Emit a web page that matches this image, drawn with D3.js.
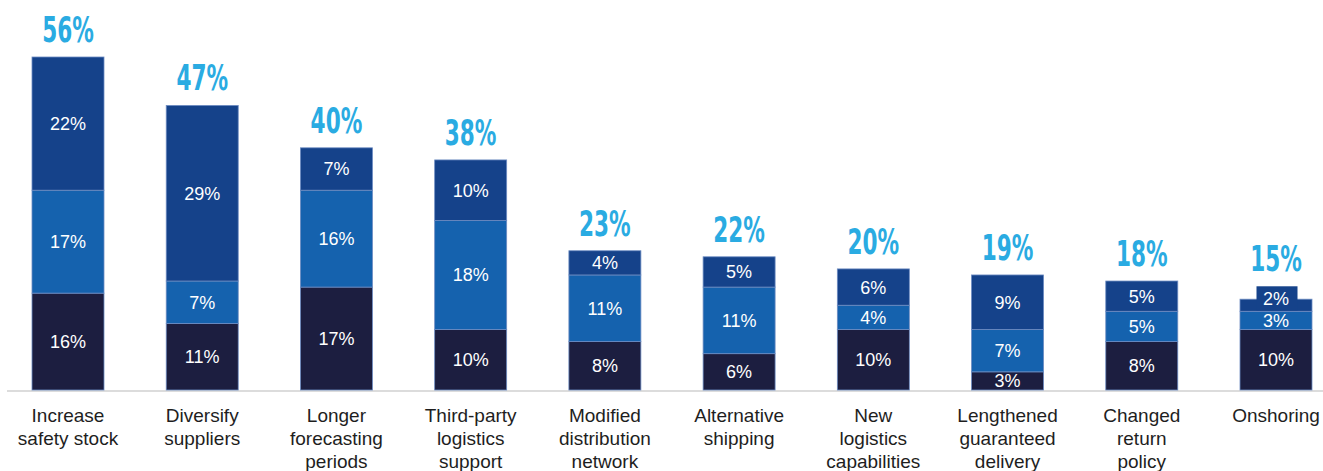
<!DOCTYPE html>
<html>
<head>
<meta charset="utf-8">
<script src="https://cdn.jsdelivr.net/npm/d3@7"></script>
<style>
  html, body { margin: 0; padding: 0; background: #fff; }
  svg { display: block; }
</style>
</head>
<body>
<svg id="chart" width="1323" height="471"></svg>
<script>
// Supply-chain responses: share of respondents, split into three groups
const categories = [
  ["Increase", "safety stock"],
  ["Diversify", "suppliers"],
  ["Longer", "forecasting", "periods"],
  ["Third-party", "logistics", "support"],
  ["Modified", "distribution", "network"],
  ["Alternative", "shipping"],
  ["New", "logistics", "capabilities"],
  ["Lengthened", "guaranteed", "delivery"],
  ["Changed", "return", "policy"],
  ["Onshoring"]
];
const bottomValues = [16, 11, 17, 10, 8, 6, 10, 3, 8, 10];
const middleValues = [17, 7, 16, 18, 11, 11, 4, 7, 5, 3];
const topValues    = [22, 29, 7, 10, 4, 5, 6, 9, 5, 2];
const totalLabels  = [56, 47, 40, 38, 23, 22, 20, 19, 18, 15];

const colors = ["#1c1e40", "#1562ae", "#15428a"];
const totalColor = "#2aabe2";

const svg = d3.select("#chart");
const baseY = 390;

const keys = categories.map((c, i) => i);
const x = d3.scalePoint().domain(keys).range([68, 1276]);
const barW = 72;
const y = d3.scaleLinear().domain([0, 55]).range([baseY, 57]);

const rows = keys.map(i => ({ i, b: bottomValues[i], m: middleValues[i], t: topValues[i] }));
const stack = d3.stack().keys(["b", "m", "t"])(rows);

// highest drawn point of each bar (a label tab may rise above the bar)
const topEdge = rows.map(r => y(r.b + r.m + r.t));

// baseline
svg.append("line")
  .attr("x1", 7).attr("x2", 1323)
  .attr("y1", baseY + 1).attr("y2", baseY + 1)
  .attr("stroke", "#dcdcdc").attr("stroke-width", 2);

const layers = svg.selectAll("g.layer").data(stack).join("g")
  .attr("class", "layer")
  .attr("fill", (d, k) => colors[k]);

layers.selectAll("rect").data(d => d).join("rect")
  .attr("x", d => x(d.data.i) - barW / 2)
  .attr("width", barW)
  .attr("y", d => y(d[1]))
  .attr("height", d => y(d[0]) - y(d[1]))
  .attr("stroke", "#6d8cc2")
  .attr("stroke-width", 0.8);

// segment value labels; thin segments get a tab behind the label
const labelSize = 18;
stack.forEach((layer, k) => {
  layer.forEach(d => {
    const v = d[1] - d[0];
    const cx = x(d.data.i);
    const top = y(d[1]), bot = y(d[0]);
    const h = bot - top;
    let cy = (top + bot) / 2;
    if (h < 15) {
      const boxH = 25, boxW = 41;
      svg.append("rect")
        .attr("x", cx - boxW / 2 + 1).attr("width", boxW)
        .attr("y", bot - boxH).attr("height", boxH - 1)
        .attr("fill", colors[k]);
      cy = bot - boxH / 2;
      topEdge[d.data.i] = Math.min(topEdge[d.data.i], bot - boxH);
    }
    svg.append("text")
      .attr("x", cx).attr("y", cy)
      .attr("dy", "0.36em")
      .attr("text-anchor", "middle")
      .attr("font-family", "'Liberation Sans', Arial, sans-serif")
      .attr("font-size", labelSize)
      .attr("fill", "#ffffff")
      .text(v + "%");
  });
});

// totals above bars, squeezed horizontally into a condensed look
svg.selectAll("text.total").data(rows).join("text")
  .attr("class", "total")
  .attr("transform", d => `translate(${x(d.i)},${topEdge[d.i] - 15}) scale(0.6,1)`)
  .attr("text-anchor", "middle")
  .attr("font-family", "'DejaVu Sans', 'Liberation Sans', sans-serif")
  .attr("font-weight", "bold")
  .attr("font-size", 36)
  .attr("fill", totalColor)
  .text(d => totalLabels[d.i] + "%");

// category labels
const cat = svg.selectAll("text.cat").data(keys).join("text")
  .attr("class", "cat")
  .attr("text-anchor", "middle")
  .attr("font-family", "'Liberation Sans', Arial, sans-serif")
  .attr("font-size", 19)
  .attr("fill", "#1e1e1e");
cat.selectAll("tspan").data(i => categories[i].map(t => ({ t, i }))).join("tspan")
  .attr("x", d => x(d.i))
  .attr("y", (d, j) => 421.5 + j * 23.3)
  .text(d => d.t);
</script>
</body>
</html>
